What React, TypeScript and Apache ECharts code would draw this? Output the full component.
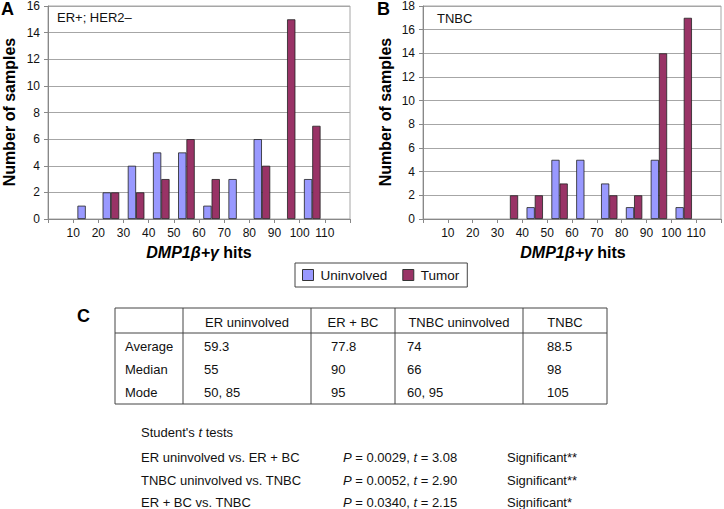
import React, { useEffect, useRef } from "react";
import * as echarts from "echarts";

// ---- data ----
const bins = ["0–10", "10–20", "20–30", "30–40", "40–50", "50–60", "60–70", "70–80", "80–90", "90–100", "100–110", "110–120"];
const xTickLabels = [10, 20, 30, 40, 50, 60, 70, 80, 90, 100, 110];
const erUninvolved = [0, 1, 2, 4, 5, 5, 1, 3, 6, 0, 3, 0];
const erTumor = [0, 0, 2, 2, 3, 6, 3, 0, 4, 15, 7, 0];
const tnbcUninvolved = [0, 0, 0, 0, 1, 5, 5, 3, 1, 5, 1, 0];
const tnbcTumor = [0, 0, 0, 2, 2, 3, 0, 2, 2, 14, 17, 0];
const seriesNames = ["Uninvolved", "Tumor"];
const panelLabels = ["ER+; HER2–", "TNBC"];
const yMax = [16, 18];

const tableHeaders = ["ER uninvolved", "ER + BC", "TNBC uninvolved", "TNBC"];
const rowLabels = ["Average", "Median", "Mode"];
const tableValues = [
  ["59.3", "77.8", "74", "88.5"],
  ["55", "90", "66", "98"],
  ["50, 85", "95", "60, 95", "105"],
];
const tTestTitle = "Student's {i|t} tests";
const tTestComparisons = ["ER uninvolved vs. ER + BC", "TNBC uninvolved vs. TNBC", "ER + BC vs. TNBC"];
const tTestP = ["0.0029", "0.0052", "0.0340"];
const tTestT = ["3.08", "2.90", "2.15"];
const tTestSig = ["Significant**", "Significant**", "Significant*"];

const FONT = "'Liberation Sans', Arial, sans-serif";
const BLUE = "#9999FF";
const RED = "#993366";

export default function App() {
  const ref = useRef<HTMLDivElement>(null);
  useEffect(() => {
    if (!ref.current) return;
    const chart = echarts.init(ref.current, undefined, { renderer: "svg" });

    const grids = [
      { left: 48, top: 5, width: 302, height: 214 },
      { left: 423, top: 5, width: 300, height: 214 },
    ];
    const nz = (arr: number[]) => arr.map((v) => (v === 0 ? "-" : v));

    const xAxes: any[] = [];
    const yAxes: any[] = [];
    [0, 1].forEach((g) => {
      xAxes.push({
        type: "category",
        gridIndex: g,
        data: bins,
        boundaryGap: true,
        axisLine: { lineStyle: { color: "#888" } },
        axisTick: { show: true, interval: 0, length: 4, lineStyle: { color: "#888" } },
        axisLabel: { show: false },
      });
      xAxes.push({
        type: "value",
        gridIndex: g,
        min: 0,
        max: 120,
        interval: 10,
        position: "bottom",
        axisLine: { show: false },
        axisTick: { show: false },
        splitLine: { show: false },
        axisLabel: {
          margin: 8,
          fontSize: 12,
          color: "#111",
          fontFamily: FONT,
          formatter: (v: number) => (xTickLabels.includes(v) ? String(v) : ""),
        },
      });
      yAxes.push({
        type: "value",
        gridIndex: g,
        min: 0,
        max: yMax[g],
        interval: 2,
        axisLine: { show: true, lineStyle: { color: "#888" } },
        axisTick: { show: true, length: 4, lineStyle: { color: "#888" } },
        splitLine: { lineStyle: { color: "#a6a6a6" } },
        axisLabel: { fontSize: 12, color: "#111", margin: 8, fontFamily: FONT },
      });
    });

    const barCommon = {
      type: "bar",
      barWidth: "33%",
      barGap: "0%",
      itemStyle: { borderColor: "#222", borderWidth: 0.8 },
    };
    const series: any[] = [
      { ...barCommon, name: seriesNames[0], xAxisIndex: 0, yAxisIndex: 0, data: nz(erUninvolved), itemStyle: { ...barCommon.itemStyle, color: BLUE } },
      { ...barCommon, name: seriesNames[1], xAxisIndex: 0, yAxisIndex: 0, data: nz(erTumor), itemStyle: { ...barCommon.itemStyle, color: RED } },
      { ...barCommon, name: seriesNames[0], xAxisIndex: 2, yAxisIndex: 1, data: nz(tnbcUninvolved), itemStyle: { ...barCommon.itemStyle, color: BLUE } },
      { ...barCommon, name: seriesNames[1], xAxisIndex: 2, yAxisIndex: 1, data: nz(tnbcTumor), itemStyle: { ...barCommon.itemStyle, color: RED } },
    ];

    const txt = (text: string, x: number, y: number, extra: any = {}) => ({
      type: "text",
      x,
      y,
      silent: true,
      style: {
        text,
        fontSize: 13,
        fontFamily: FONT,
        fill: "#111",
        align: "left",
        verticalAlign: "middle",
        ...extra,
      },
    });
    const line = (x1: number, y1: number, x2: number, y2: number) => ({
      type: "line",
      silent: true,
      shape: { x1, y1, x2, y2 },
      style: { stroke: "#444", lineWidth: 1 },
    });

    const graphics: any[] = [];
    // panel letters
    graphics.push(txt("A", 1, 9, { fontSize: 18, fontWeight: "bold", fill: "#000" }));
    graphics.push(txt("B", 377, 9, { fontSize: 18, fontWeight: "bold", fill: "#000" }));
    graphics.push(txt("C", 77, 316, { fontSize: 18, fontWeight: "bold", fill: "#000" }));
    // panel annotations
    graphics.push(txt(panelLabels[0], 57, 17, { fontSize: 13 }));
    graphics.push(txt(panelLabels[1], 437, 18, { fontSize: 13 }));
    // axis titles
    const richX = {
      b: { fontSize: 16, fontWeight: "bold", fontFamily: FONT, fill: "#000" },
      i: { fontSize: 16, fontWeight: "bold", fontStyle: "italic", fontFamily: FONT, fill: "#000" },
    };
    grids.forEach((g) => {
      graphics.push({
        type: "text",
        x: g.left + g.width / 2,
        y: 252,
        silent: true,
        style: {
          text: "{i|DMP1β+γ}{b| hits}",
          rich: richX,
          align: "center",
          verticalAlign: "middle",
        },
      });
    });
    [9, 385].forEach((x) => {
      graphics.push({
        type: "text",
        x,
        y: 112,
        rotation: Math.PI / 2,
        silent: true,
        style: {
          text: "Number of samples",
          fontSize: 16,
          fontWeight: "bold",
          fontFamily: FONT,
          fill: "#000",
          align: "center",
          verticalAlign: "middle",
        },
      });
    });

    // table
    const tL = 115, tR = 607, tT = 308, tH = 333, tB = 404;
    const colLines = [183, 311, 395, 523];
    graphics.push({
      type: "rect",
      silent: true,
      shape: { x: tL, y: tT, width: tR - tL, height: tB - tT },
      style: { fill: "none", stroke: "#444", lineWidth: 1 },
    });
    graphics.push(line(tL, tH, tR, tH));
    colLines.forEach((x) => graphics.push(line(x, tT, x, tB)));
    const colEdges = [...colLines, tR];
    tableHeaders.forEach((h, i) => {
      graphics.push(txt(h, (colEdges[i] + colEdges[i + 1]) / 2, 322, { align: "center" }));
    });
    const valueX = [204, 331, 407, 547];
    const rowY = [346, 369, 392];
    rowLabels.forEach((r, ri) => {
      graphics.push(txt(r, 125, rowY[ri]));
      tableValues[ri].forEach((v, ci) => graphics.push(txt(v, valueX[ci], rowY[ri])));
    });

    // t tests
    const richT = {
      n: { fontSize: 13, fontFamily: FONT, fill: "#111" },
      i: { fontSize: 13, fontFamily: FONT, fill: "#111", fontStyle: "italic" },
    };
    graphics.push({
      type: "text",
      x: 141,
      y: 432,
      silent: true,
      style: { text: "{n|Student's }{i|t}{n| tests}", rich: richT, verticalAlign: "middle" },
    });
    const tRowY = [457, 480, 502];
    tTestComparisons.forEach((c, i) => {
      graphics.push(txt(c, 141, tRowY[i]));
      graphics.push({
        type: "text",
        x: 343,
        y: tRowY[i],
        silent: true,
        style: {
          text: `{i|P}{n| = ${tTestP[i]}, }{i|t}{n| = ${tTestT[i]}}`,
          rich: richT,
          verticalAlign: "middle",
        },
      });
      graphics.push(txt(tTestSig[i], 507, tRowY[i]));
    });

    chart.setOption({
      animation: false,
      backgroundColor: "#fff",
      textStyle: { fontFamily: FONT },
      grid: grids.map((g) => ({ ...g, show: true, borderColor: "#a6a6a6", borderWidth: 1, backgroundColor: "transparent" })),
      xAxis: xAxes,
      yAxis: yAxes,
      legend: {
        data: seriesNames,
        left: 295,
        top: 263,
        orient: "horizontal",
        icon: "rect",
        itemWidth: 11,
        itemHeight: 11,
        itemGap: 15,
        padding: [5, 8, 5, 7],
        borderColor: "#444",
        borderWidth: 1,
        itemStyle: { borderColor: "#333", borderWidth: 1 },
        textStyle: { fontSize: 13.5, color: "#111", fontFamily: FONT, padding: [0, 0, 0, 2] },
      },
      series,
      graphic: graphics,
    });
    return () => chart.dispose();
  }, []);

  return (
    <div
      ref={ref}
      style={{ position: "fixed", left: 0, top: 0, width: 724, height: 509, background: "#fff" }}
    />
  );
}
